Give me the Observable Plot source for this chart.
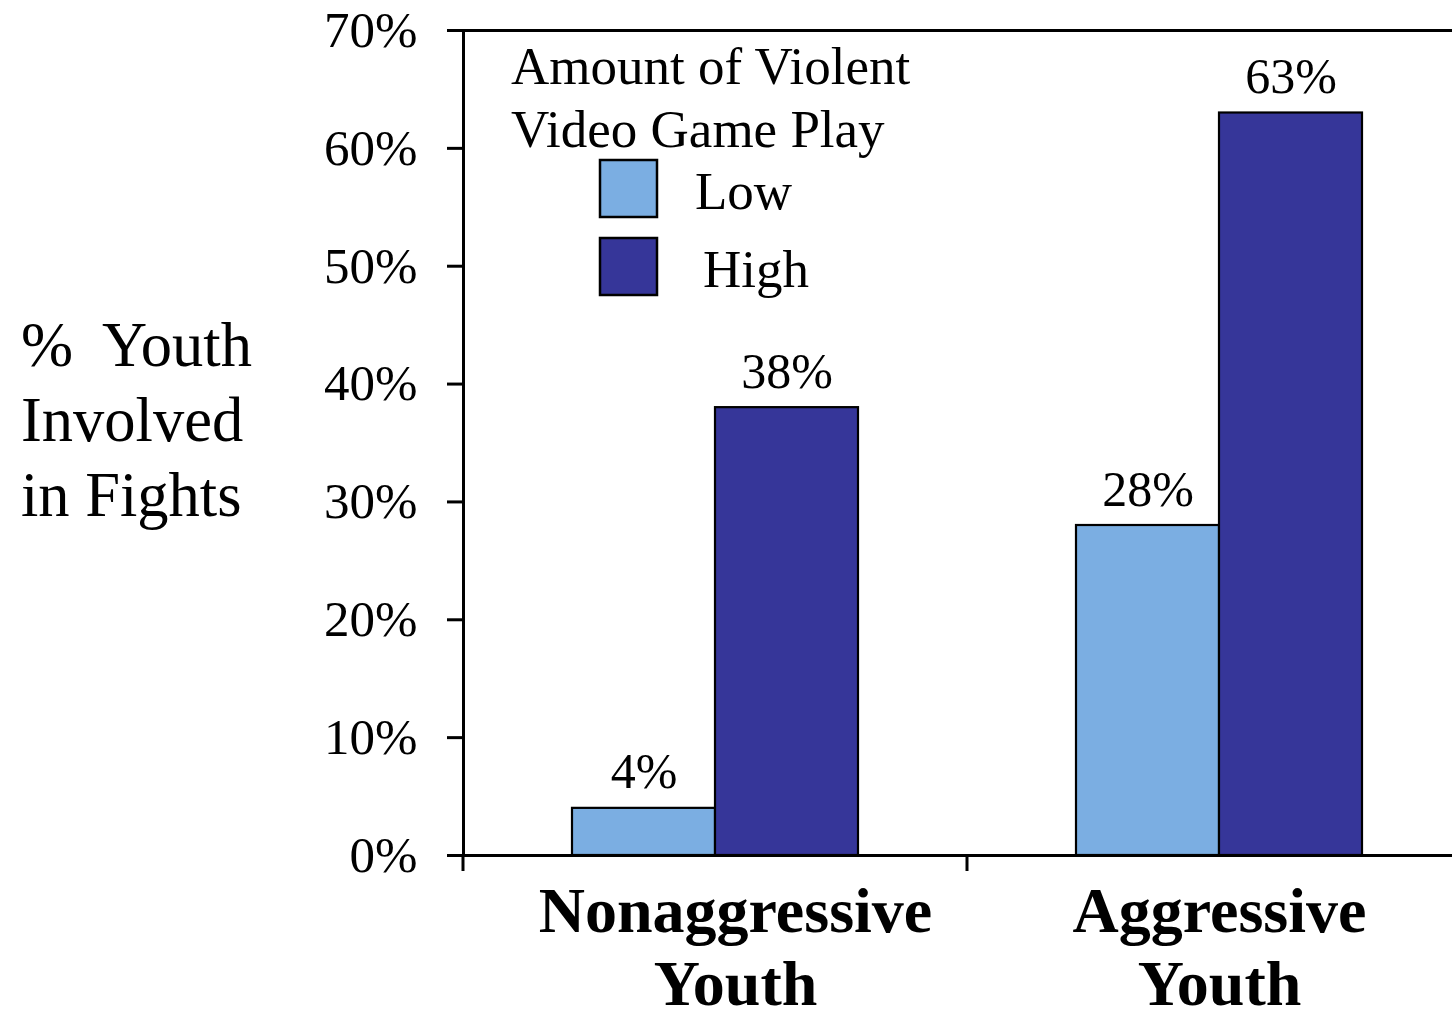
<!DOCTYPE html>
<html><head><meta charset="utf-8">
<script src="https://cdn.jsdelivr.net/npm/d3@7"></script>
<script src="https://cdn.jsdelivr.net/npm/@observablehq/plot@0.6"></script>
<style>body{margin:0;background:#fff} svg{display:block}</style>
</head><body><div id="chart"></div>
<script>
const categories = ["Nonaggressive\nYouth", "Aggressive\nYouth"];
const amounts = ["Low", "High"];
const lowValues = [4, 28];
const highValues = [38, 63];
const yTicks = [0, 10, 20, 30, 40, 50, 60, 70];
const barColors = ["#7baee2", "#363699"];
const legendTitle = ["Amount of Violent", "Video Game Play"];
const yLabel = ["%\u00a0 Youth", "Involved", "in Fights"];

const data = categories.flatMap((c, i) => [
  {cat: c, amount: amounts[0], value: lowValues[i]},
  {cat: c, amount: amounts[1], value: highValues[i]}
]);
const font = '"Liberation Serif", "Times New Roman", serif';
const catStyle = {fx: d => d, text: d => d, frameAnchor: "bottom", lineAnchor: "top", dy: 24, fontSize: 64, fontWeight: "bold", lineHeight: 1.15, fill: "#000"};

const chart = Plot.plot({
  width: 1452, height: 1016,
  marginLeft: 463, marginRight: -19, marginTop: 30, marginBottom: 161,
  style: {fontFamily: font, background: "#fff", color: "#000", overflow: "hidden"},
  fx: {domain: categories, padding: 0, label: null, axis: null},
  x: {domain: amounts, paddingInner: 0, paddingOuter: 0.76, axis: null, label: null},
  y: {domain: [0, 70], label: null},
  color: {domain: amounts, range: barColors},
  marks: [
    Plot.barY(data, {fx: "cat", x: "amount", y: "value", fill: "amount", stroke: "#000", strokeWidth: 2.2}),
    Plot.text(data, {fx: "cat", x: "amount", y: "value", text: d => d.value + "%", lineAnchor: "bottom", dy: -20, fontSize: 50, fill: "#000"}),
    Plot.ruleY([0], {stroke: "#000", strokeWidth: 3}),
    Plot.ruleY([70], {stroke: "#000", strokeWidth: 3}),
    Plot.frame({anchor: "left", facet: "super", stroke: "#000", strokeWidth: 3}),
    Plot.axisY({ticks: yTicks, tickFormat: d => d + "%", tickSize: 16, tickPadding: 30, fontSize: 51, stroke: "#000", strokeWidth: 3, fill: "#000"}),
    Plot.text([categories[0]], {...catStyle, dx: 20}),
    Plot.text([categories[1]], catStyle)
  ]
});
document.getElementById("chart").append(chart);

const svg = d3.select(chart);
const fx = chart.scale("fx");
const y = chart.scale("y");
const y0 = y.apply(0);
// category boundary ticks below the axis
const bounds = categories.map(c => fx.apply(c)).concat([fx.apply(categories[categories.length - 1]) + fx.bandwidth]);
svg.append("g").selectAll("line").data(bounds).join("line")
  .attr("x1", d => d).attr("x2", d => d)
  .attr("y1", y0).attr("y2", y0 + 16)
  .attr("stroke", "#000").attr("stroke-width", 3);

// y axis title
svg.append("text")
  .attr("font-family", font).attr("font-size", 62.5).attr("fill", "#000").attr("text-anchor", "start")
  .selectAll("tspan").data(yLabel).join("tspan")
  .attr("x", 21).attr("y", (d, i) => 366 + i * 75)
  .text(d => d);

// legend
const lg = svg.append("g").attr("font-family", font).attr("font-size", 53).attr("fill", "#000").attr("text-anchor", "start");
lg.append("text").selectAll("tspan").data(legendTitle).join("tspan")
  .attr("x", 511).attr("y", (d, i) => 84 + i * 63).text(d => d);
const items = lg.selectAll("g.item").data(amounts).join("g").attr("class", "item")
  .attr("transform", (d, i) => `translate(600,${160 + i * 78})`);
items.append("rect").attr("width", 57).attr("height", 57)
  .attr("fill", d => chart.scale("color").apply(d)).attr("stroke", "#000").attr("stroke-width", 2.5);
items.append("text").attr("x", (d, i) => i === 0 ? 95 : 103).attr("y", 49).text(d => d);
</script>
</body></html>
